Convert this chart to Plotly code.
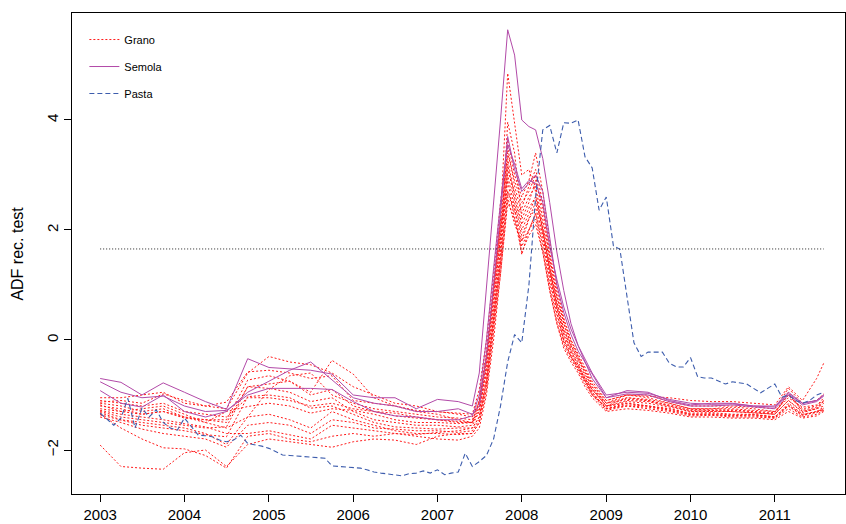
import plotly.graph_objects as go
import pandas as pd

# ---- dates ----
months = pd.date_range("2003-01-01", periods=104, freq="MS")
grid_idx = [0, 3, 6, 9, 12, 15, 18, 21, 24, 27, 30, 33, 36, 39, 42, 45, 48, 51,
            53, 54, 55, 56, 57, 58, 59, 60, 61, 62, 63, 64, 65, 66, 67, 68, 69, 70, 72,
            75, 78, 81, 84, 87, 90, 93, 96, 98, 100, 102, 103]
grid_dates = [months[i] for i in grid_idx]
year_ticks = [2003, 2004, 2005, 2006, 2007, 2008, 2009, 2010, 2011]
y_ticks = [-2, 0, 2, 4]
critical_value = 1.655

# ---- Semola (purple, solid) ----
semola_1 = [-0.70, -0.77, -1.00, -0.78, -0.95, -1.12, -1.26, -0.34, -0.50, -0.52, -0.55, -0.62, -1.00, -1.05, -1.05, -1.25, -1.08, -1.12,
            -1.20, -0.60, 0.90, 2.40, 4.00, 5.64, 5.18, 4.00, 3.88, 3.82, 3.30, 2.50, 1.60, 0.90, 0.30, -0.10, -0.40, -0.70, -1.05,
            -0.92, -0.95, -1.10, -1.18, -1.15, -1.15, -1.20, -1.22, -0.98, -1.15, -1.10, -1.00]
semola_2 = [-0.92, -1.15, -1.22, -1.00, -1.30, -1.40, -1.30, -0.95, -0.75, -0.55, -0.40, -0.72, -1.05, -1.15, -1.20, -1.30, -1.30, -1.25,
            -1.35, -1.20, -0.30, 1.00, 2.40, 3.70, 3.10, 2.70, 2.85, 3.00, 2.70, 1.90, 1.00, 0.50, 0.10, -0.20, -0.40, -0.62, -1.05,
            -0.98, -1.00, -1.12, -1.20, -1.20, -1.18, -1.22, -1.25, -1.00, -1.18, -1.12, -1.02]
semola_3 = [-0.76, -0.95, -1.05, -1.02, -1.20, -1.30, -1.28, -1.00, -0.88, -0.88, -0.88, -0.90, -1.12, -1.30, -1.38, -1.40, -1.45, -1.45,
            -1.38, -1.00, 0.00, 1.30, 2.50, 3.55, 3.20, 2.75, 2.90, 2.85, 2.50, 1.70, 1.10, 0.60, 0.20, -0.10, -0.35, -0.60, -1.00,
            -0.95, -0.97, -1.08, -1.15, -1.17, -1.16, -1.20, -1.20, -0.95, -1.15, -1.10, -1.00]

# ---- Grano (red, dotted) ----
grano_1 = [-1.05, -1.05, -1.00, -0.95, -1.15, -1.20, -1.25, -0.60, -0.30, -0.40, -0.45, -0.60, -0.85, -1.00, -1.15, -1.20, -1.30, -1.35,
           -1.40, -1.10, -0.30, 0.90, 2.20, 4.85, 3.90, 3.00, 3.10, 2.70, 2.00, 1.30, 0.70, 0.20, -0.10, -0.35, -0.55, -0.80, -1.10,
           -1.00, -1.05, -1.15, -1.25, -1.25, -1.22, -1.25, -1.30, -1.00, -1.25, -1.20, -1.05]
grano_2 = [-1.15, -1.20, -1.30, -1.25, -1.40, -1.45, -1.50, -0.85, -0.80, -0.75, -0.95, -0.37, -0.62, -1.05, -1.20, -1.30, -1.35, -1.45,
           -1.50, -1.30, -0.60, 0.50, 1.60, 3.96, 3.40, 2.20, 2.50, 2.90, 2.40, 1.50, 0.80, 0.30, -0.05, -0.30, -0.60, -0.85, -1.20,
           -1.05, -1.10, -1.20, -1.30, -1.30, -1.28, -1.30, -1.35, -0.95, -1.30, -1.25, -1.10]
grano_3 = [-1.91, -2.30, -2.33, -2.35, -2.05, -2.00, -2.30, -1.90, -1.80, -1.85, -1.90, -1.95, -1.85, -1.80, -1.82, -1.90, -1.75, -1.70,
           -1.70, -1.50, -0.90, 0.20, 1.20, 2.50, 2.20, 1.60, 1.90, 2.10, 1.60, 0.90, 0.30, -0.10, -0.35, -0.55, -0.75, -0.95, -1.25,
           -1.20, -1.25, -1.30, -1.38, -1.37, -1.40, -1.40, -1.42, -1.20, -1.36, -1.30, -1.28]
grano_4 = [-1.35, -1.60, -1.80, -1.96, -1.98, -2.10, -2.33, -1.75, -1.70, -1.80, -1.85, -1.75, -1.70, -1.75, -1.70, -1.72, -1.68, -1.65,
           -1.60, -1.40, -0.80, 0.30, 1.40, 2.70, 2.40, 1.80, 2.00, 2.30, 1.80, 1.10, 0.50, 0.00, -0.30, -0.50, -0.70, -0.90, -1.20,
           -1.15, -1.20, -1.25, -1.35, -1.35, -1.38, -1.36, -1.40, -1.15, -1.35, -1.30, -1.25]
grano_5 = [-1.13, -1.10, -1.15, -0.98, -1.10, -1.20, -1.13, -0.58, -0.55, -0.60, -0.70, -0.65, -1.10, -1.15, -1.20, -1.28, -1.30, -1.33,
           -1.35, -0.90, 0.00, 1.20, 2.50, 3.64, 3.00, 2.60, 2.90, 3.40, 2.70, 1.80, 1.00, 0.40, 0.00, -0.25, -0.50, -0.75, -1.10,
           -1.00, -1.00, -1.12, -1.20, -1.20, -1.20, -1.22, -1.25, -0.88, -1.15, -1.10, -0.98]
grano_6 = [-1.18, -1.30, -1.35, -1.30, -1.42, -1.45, -1.45, -0.73, -0.65, -0.75, -1.00, -0.90, -1.20, -1.30, -1.33, -1.40, -1.45, -1.50,
           -1.50, -1.20, -0.40, 0.80, 2.00, 3.50, 2.80, 2.30, 2.60, 2.80, 2.10, 1.40, 0.70, 0.20, -0.15, -0.40, -0.65, -0.90, -1.20,
           -1.10, -1.12, -1.20, -1.28, -1.30, -1.30, -1.32, -1.35, -1.10, -1.30, -1.25, -1.15]
grano_7 = [-1.30, -1.40, -1.45, -1.50, -1.55, -1.60, -1.58, -0.85, -0.88, -0.95, -1.12, -1.05, -1.30, -1.45, -1.50, -1.55, -1.55, -1.58,
           -1.55, -1.30, -0.50, 0.60, 1.90, 3.30, 2.60, 2.00, 2.30, 2.60, 2.00, 1.30, 0.60, 0.10, -0.20, -0.45, -0.70, -0.95, -1.25,
           -1.15, -1.20, -1.25, -1.33, -1.32, -1.35, -1.35, -1.40, -1.20, -1.38, -1.30, -1.22]
grano_8 = [-1.36, -1.45, -1.55, -1.60, -1.65, -1.72, -1.76, -1.03, -1.00, -1.05, -1.24, -1.20, -1.35, -1.50, -1.58, -1.60, -1.62, -1.60,
           -1.60, -1.40, -0.70, 0.40, 1.70, 3.20, 2.50, 1.90, 2.20, 2.50, 1.90, 1.20, 0.50, 0.00, -0.30, -0.50, -0.75, -1.00, -1.28,
           -1.20, -1.22, -1.28, -1.36, -1.36, -1.38, -1.38, -1.42, -1.25, -1.40, -1.35, -1.28]
grano_9 = [-1.25, -1.30, -1.25, -1.20, -1.35, -1.50, -1.30, -1.21, -1.15, -1.20, -1.33, -1.25, -1.28, -1.35, -1.45, -1.50, -1.50, -1.52,
           -1.50, -1.25, -0.45, 0.70, 1.80, 3.00, 2.40, 1.55, 2.00, 2.30, 1.70, 1.00, 0.40, -0.05, -0.30, -0.55, -0.80, -1.00, -1.22,
           -1.12, -1.15, -1.22, -1.30, -1.28, -1.30, -1.32, -1.35, -1.10, -1.32, -1.25, -1.20]
grano_10 = [-1.32, -1.45, -1.50, -1.55, -1.60, -1.70, -1.90, -1.40, -1.35, -1.45, -1.60, -1.30, -1.45, -1.55, -1.65, -1.70, -1.70, -1.72,
            -1.70, -1.50, -0.90, 0.20, 1.40, 2.90, 2.20, 1.70, 2.00, 2.20, 1.60, 0.90, 0.30, -0.15, -0.40, -0.60, -0.85, -1.05, -1.30,
            -1.25, -1.28, -1.33, -1.40, -1.40, -1.42, -1.42, -1.45, -1.30, -1.42, -1.38, -1.30]
grano_11 = [-1.20, -1.25, -1.35, -1.30, -1.40, -1.50, -1.60, -1.40, -0.90, -0.65, -0.60, -1.00, -1.15, -1.25, -1.30, -1.35, -1.40, -1.42,
            -1.45, -1.15, -0.30, 0.90, 2.10, 2.70, 2.30, 2.40, 2.80, 3.10, 2.50, 1.60, 0.90, 0.35, 0.00, -0.30, -0.55, -0.80, -1.15,
            -1.05, -1.08, -1.15, -1.25, -1.25, -1.25, -1.28, -1.30, -1.05, -1.22, -1.18, -1.10]
grano_12 = [-1.28, -1.35, -1.40, -1.45, -1.52, -1.58, -1.70, -1.70, -1.65, -1.72, -1.80, -1.55, -1.60, -1.65, -1.70, -1.75, -1.80, -1.82,
            -1.75, -1.60, -1.00, 0.00, 1.20, 2.60, 2.10, 1.80, 2.20, 2.40, 1.90, 1.20, 0.60, 0.15, -0.20, -0.45, -0.70, -0.90, -1.15,
            -1.00, -1.02, -1.05, -1.10, -1.12, -1.12, -1.15, -1.18, -0.85, -1.10, -0.70, -0.42]
grano_13 = [-1.10, -1.15, -1.20, -1.15, -1.30, -1.35, -1.40, -1.05, -1.05, -1.10, -1.20, -1.15, -1.25, -1.30, -1.38, -1.42, -1.45, -1.48,
            -1.50, -1.10, -0.20, 1.00, 2.20, 3.40, 2.90, 2.50, 2.70, 3.00, 2.20, 1.50, 0.80, 0.30, -0.10, -0.35, -0.60, -0.85, -1.15,
            -1.08, -1.10, -1.18, -1.26, -1.27, -1.27, -1.30, -1.32, -1.00, -1.28, -1.22, -1.12]
grano_14 = [-1.40, -1.50, -1.62, -1.70, -1.75, -1.80, -1.95, -1.55, -1.50, -1.55, -1.70, -1.45, -1.50, -1.60, -1.62, -1.65, -1.65, -1.68,
            -1.65, -1.45, -0.75, 0.35, 1.50, 3.10, 2.70, 2.10, 2.40, 2.60, 2.00, 1.30, 0.60, 0.05, -0.25, -0.50, -0.75, -0.98, -1.25,
            -1.18, -1.20, -1.27, -1.35, -1.34, -1.36, -1.36, -1.40, -1.18, -1.36, -1.32, -1.25]

# ---- Pasta (blue, dashed), monthly Jan 2003 - Aug 2011 ----
pasta = [-1.33, -1.45, -1.55, -1.42, -1.06, -1.60, -1.24, -1.40, -1.27, -1.50, -1.60, -1.64,
         -1.42, -1.58, -1.73, -1.74, -1.76, -1.82, -1.85, -1.82, -1.73, -1.88, -1.90, -1.93,
         -1.97, -2.03, -2.09, -2.10, -2.11, -2.12, -2.13, -2.14, -2.15, -2.29, -2.30, -2.31,
         -2.32, -2.33, -2.36, -2.40, -2.42, -2.44, -2.46, -2.47, -2.43, -2.42, -2.38, -2.42,
         -2.36, -2.45, -2.42, -2.40, -2.06, -2.30, -2.21, -2.10, -1.80, -1.20, -0.40, 0.10,
         -0.05, 1.00, 2.60, 3.82, 3.90, 3.40, 3.95, 3.94, 4.00, 3.33, 3.13, 2.36,
         2.60, 1.71, 1.65, 0.75, -0.05, -0.30, -0.22, -0.22, -0.22, -0.42, -0.49, -0.49,
         -0.32, -0.67, -0.69, -0.69, -0.75, -0.80, -0.76, -0.78, -0.80, -0.88, -0.96, -0.88,
         -0.80, -1.04, -1.00, -1.10, -1.15, -1.10, -1.00, -0.95]

grano = [grano_1, grano_2, grano_3, grano_4, grano_5, grano_6, grano_7,
         grano_8, grano_9, grano_10, grano_11, grano_12, grano_13, grano_14]
semola = [semola_1, semola_2, semola_3]

RED = "#FF1A1A"
PURPLE = "#B24AA8"
BLUE = "#3D5DAD"
FONT = "Liberation Sans, Arial, Helvetica, sans-serif"

fig = go.Figure()
for i, s in enumerate(grano):
    fig.add_trace(go.Scatter(x=grid_dates, y=s, mode="lines", name="Grano",
                             legendgroup="g1", showlegend=(i == 0),
                             line=dict(color=RED, width=1, dash="2px,2px")))
for i, s in enumerate(semola):
    fig.add_trace(go.Scatter(x=grid_dates, y=s, mode="lines", name="Semola",
                             legendgroup="g2", showlegend=(i == 0),
                             line=dict(color=PURPLE, width=1)))
fig.add_trace(go.Scatter(x=list(months), y=pasta, mode="lines", name="Pasta",
                         legendgroup="g3",
                         line=dict(color=BLUE, width=1.1, dash="5px,3px")))
fig.add_trace(go.Scatter(x=[months[0], months[-1]], y=[critical_value, critical_value],
                         mode="lines", showlegend=False, hoverinfo="skip",
                         line=dict(color="#222222", width=1, dash="1px,2px")))

tickdates = [pd.Timestamp(f"{y}-01-01") for y in year_ticks]
fig.update_layout(
    width=846, height=524,
    margin=dict(l=72, r=1, t=13, b=30),
    paper_bgcolor="white", plot_bgcolor="white",
    font=dict(family=FONT, color="black"),
    showlegend=True,
    legend=dict(x=0.016, y=0.975, xanchor="left", yanchor="top",
                bgcolor="rgba(0,0,0,0)", font=dict(size=11, family=FONT),
                tracegroupgap=8, traceorder="grouped", itemwidth=30),
    xaxis=dict(type="date", range=["2002-09-01", "2011-11-01"],
               tickvals=tickdates, ticktext=[str(y) for y in year_ticks],
               ticks="outside", ticklen=7, tickcolor="black",
               showline=True, linecolor="black", linewidth=1, mirror=True,
               showgrid=False, zeroline=False, tickfont=dict(size=15)),
    yaxis=dict(range=[-2.8, 5.945], tickvals=y_ticks,
               ticktext=["\u22122" if v < 0 else str(v) for v in y_ticks],
               tickangle=-90, ticks="outside", ticklen=7, tickcolor="black",
               showline=True, linecolor="black", linewidth=1, mirror=True,
               showgrid=False, zeroline=False, tickfont=dict(size=15)),
    annotations=[dict(text="ADF rec. test", xref="paper", yref="paper",
                      x=-0.071, y=0.5, xanchor="center", yanchor="middle",
                      textangle=-90, showarrow=False, font=dict(size=16))],
)
fig.write_html("out.html", config={"displayModeBar": False},
               post_script="document.body.style.margin='0';document.body.style.overflow='hidden';")
